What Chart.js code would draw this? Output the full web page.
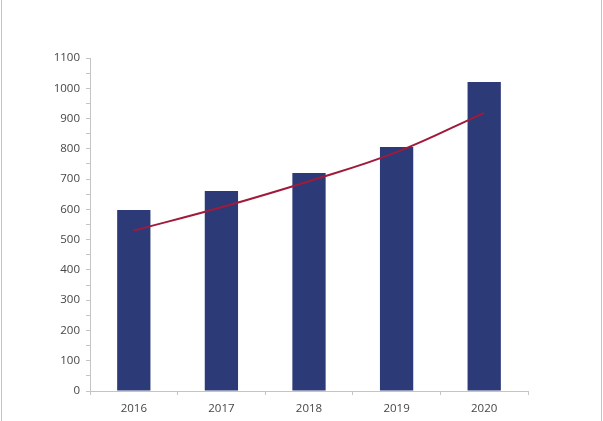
<!DOCTYPE html>
<html>
<head>
<meta charset="utf-8">
<script src="https://cdn.jsdelivr.net/npm/chart.js@4"></script>
<style>
  html, body { margin: 0; padding: 0; background: #fff; }
  #wrap { position: relative; width: 603px; height: 421px; }
  #edgeL, #edgeR { position: absolute; top: 0; width: 1px; height: 421px; background: #c4c4c4; }
  #edgeL { left: 1px; }
  #edgeR { left: 601px; }
</style>
</head>
<body>
<div id="wrap">
  <canvas id="c" width="603" height="421"></canvas>
  <div id="edgeL"></div>
  <div id="edgeR"></div>
</div>
<script>
const categories = ['2016', '2017', '2018', '2019', '2020'];
const barValues = [598, 661, 720, 806, 1021];
const trendValues = [530, 607, 693, 789, 919];
const yTickLabels = [0, 100, 200, 300, 400, 500, 600, 700, 800, 900, 1000, 1100];

const axisColor = '#c4c4c4';
const textColor = '#464646';

new Chart(document.getElementById('c'), {
  data: {
    labels: categories,
    datasets: [
      {
        type: 'line',
        data: trendValues,
        borderColor: '#a01a3c',
        borderWidth: 2,
        pointRadius: 0,
        tension: 0.4,
        fill: false,
        order: 0
      },
      {
        type: 'bar',
        data: barValues,
        backgroundColor: '#2c3b77',
        barPercentage: 0.38,
        categoryPercentage: 1.0,
        order: 1
      }
    ]
  },
  options: {
    responsive: false,
    animation: false,
    devicePixelRatio: 1,
    layout: { padding: { left: 0, right: 75, top: 58, bottom: 0 } },
    plugins: { legend: { display: false }, tooltip: { enabled: false } },
    scales: {
      x: {
        grid: { display: true, drawOnChartArea: false, offset: true, color: axisColor, tickLength: 4 },
        border: { color: axisColor, width: 1 },
        ticks: { color: textColor, font: { family: 'Open Sans', size: 11.5 }, padding: 7 },
        afterFit: s => { s.height = 30; }
      },
      y: {
        min: 0,
        max: 1100,
        grid: { display: true, drawOnChartArea: false, color: axisColor, tickLength: 4 },
        border: { color: axisColor, width: 1 },
        ticks: {
          stepSize: 50,
          autoSkip: false,
          color: textColor,
          font: { family: 'Open Sans', size: 11.5 },
          padding: 6,
          callback: v => yTickLabels.includes(v) ? String(v) : ''
        },
        afterFit: s => { s.width = 90; }
      }
    }
  }
});
</script>
</body>
</html>
